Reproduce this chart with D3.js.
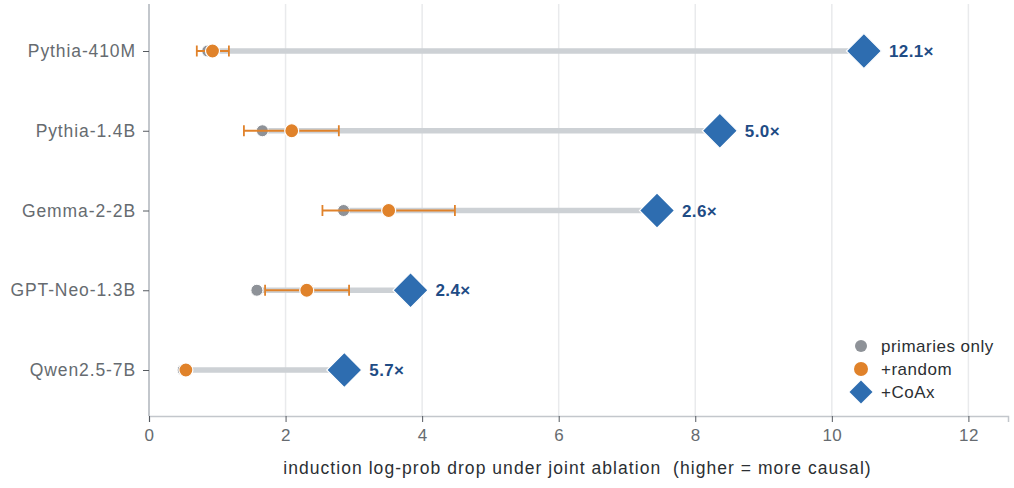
<!DOCTYPE html>
<html>
<head>
<meta charset="utf-8">
<script src="https://cdn.jsdelivr.net/npm/d3@7"></script>
<style>
  body { margin: 0; background: #fff; }
  text { font-family: "Liberation Sans", Arial, sans-serif; }
</style>
</head>
<body>
<script>
const models = ['Pythia-410M', 'Pythia-1.4B', 'Gemma-2-2B', 'GPT-Neo-1.3B', 'Qwen2.5-7B'];
const primaries = [0.86, 1.66, 2.85, 1.58, 0.50];
const randomMean = [0.93, 2.09, 3.51, 2.31, 0.54];
const randomLo = [0.70, 1.39, 2.54, 1.70, 0.54];
const randomHi = [1.17, 2.78, 4.48, 2.93, 0.54];
const coax = [10.47, 8.36, 7.44, 3.83, 2.86];
const ratioLabels = ['12.1×', '5.0×', '2.6×', '2.4×', '5.7×'];
const xTicks = [0, 2, 4, 6, 8, 10, 12];

const svgWidth = 1014;
const svgHeight = 488;
const margin = {left: 149, right: 6, top: 4, bottom: 72};

const rows = models.map((m, i) => ({
    model: m,
    prim: primaries[i],
    rand: randomMean[i],
    lo: randomLo[i],
    hi: randomHi[i],
    coax: coax[i],
    label: ratioLabels[i]
}));

const svg = d3.select('body').append('svg')
.attr('width', svgWidth)
.attr('height', svgHeight)

const x = d3.scaleLinear()
.domain([0, 12.58])
.range([margin.left, svgWidth - margin.right])

const y = d3.scalePoint()
.domain(models)
.range([51, 370])

const bottomY = svgHeight - margin.bottom;

// grid
svg.append('g')
.selectAll('line')
.data(xTicks.filter((t) => t > 0))
.enter().append('line')
.attr('x1', (d) => x(d)).attr('x2', (d) => x(d))
.attr('y1', margin.top).attr('y2', bottomY)
.attr('stroke', '#e9eaec')
.attr('stroke-width', 1.5)

// x axis
const xAxis = svg.append('g')
.attr('transform', `translate(0, ${bottomY})`)
.call(d3.axisBottom(x).tickValues(xTicks).tickSize(6).tickPadding(7))
xAxis.select('.domain').attr('stroke', '#c3c7cc').attr('stroke-width', 1.5)
xAxis.selectAll('.tick line').attr('stroke', '#555a60')
xAxis.selectAll('.tick text').attr('fill', '#666b70')
.style('font-size', '17px').style('letter-spacing', '0.5px')

// y axis
const yAxis = svg.append('g')
.attr('transform', `translate(${margin.left}, 0)`)
.call(d3.axisLeft(y).tickSize(6).tickPadding(7))
yAxis.select('.domain')
.attr('d', `M0,${margin.top}V${bottomY}`)
.attr('stroke', '#c3c7cc').attr('stroke-width', 2)
yAxis.selectAll('.tick line').attr('stroke', '#555a60')
yAxis.selectAll('.tick text').attr('fill', '#666b70')
.style('font-size', '17.5px').style('letter-spacing', '0.9px')

svg.append('text')
.attr('x', (x.range()[0] + x.range()[1]) / 2 - 1)
.attr('y', 474)
.attr('text-anchor', 'middle')
.attr('fill', '#2b2f33')
.style('font-size', '17.5px')
.style('letter-spacing', '1.05px')
.style('white-space', 'pre')
.text('induction log-prob drop under joint ablation  (higher = more causal)')

const marks = svg.append('g')

// gray bars from primaries to CoAx
marks.selectAll('.bar')
.data(rows).enter().append('line')
.attr('x1', (d) => x(Math.min(d.prim, d.rand)))
.attr('x2', (d) => x(d.coax))
.attr('y1', (d) => y(d.model)).attr('y2', (d) => y(d.model))
.attr('stroke', '#cdd1d5')
.attr('stroke-width', 5.5)

// primaries
marks.selectAll('.prim')
.data(rows).enter().append('circle')
.attr('cx', (d) => x(d.prim))
.attr('cy', (d) => y(d.model))
.attr('r', 6)
.attr('fill', '#8e9298')
.attr('stroke', '#fff').attr('stroke-width', 1)

// random error bars
const err = marks.selectAll('.err')
.data(rows.filter((d) => d.hi > d.lo)).enter().append('g')
err.append('line')
.attr('x1', (d) => x(d.lo)).attr('x2', (d) => x(d.hi))
.attr('y1', (d) => y(d.model)).attr('y2', (d) => y(d.model))
.attr('stroke', '#e0822a').attr('stroke-width', 2)
err.selectAll('.cap')
.data((d) => [[d.lo, d.model], [d.hi, d.model]]).enter().append('line')
.attr('x1', (d) => x(d[0])).attr('x2', (d) => x(d[0]))
.attr('y1', (d) => y(d[1]) - 5.5).attr('y2', (d) => y(d[1]) + 5.5)
.attr('stroke', '#e0822a').attr('stroke-width', 1.8)

marks.selectAll('.rand')
.data(rows).enter().append('circle')
.attr('cx', (d) => x(d.rand))
.attr('cy', (d) => y(d.model))
.attr('r', 7)
.attr('fill', '#e0822a')
.attr('stroke', '#fff').attr('stroke-width', 1.2)

// CoAx diamonds
marks.selectAll('.coax')
.data(rows).enter().append('path')
.attr('d', d3.symbol().type(d3.symbolSquare).size(17.5 * 17.5 * 2)())
.attr('transform', (d) => `translate(${x(d.coax)}, ${y(d.model)}) rotate(45)`)
.attr('fill', '#2e6db0')
.attr('stroke', '#fff').attr('stroke-width', 1.2)

marks.selectAll('.lab')
.data(rows).enter().append('text')
.attr('x', (d) => x(d.coax) + 25)
.attr('y', (d) => y(d.model) + 6)
.attr('fill', '#1f4c85')
.style('font-size', '17px')
.style('font-weight', 'bold')
.style('letter-spacing', '0.4px')
.text((d) => d.label)

// legend
const legendItems = [
    {name: 'primaries only', type: 'circle', r: 6, color: '#8e9298'},
    {name: '+random', type: 'circle', r: 7, color: '#e0822a'},
    {name: '+CoAx', type: 'diamond', color: '#2e6db0'}
];
const legend = svg.append('g').attr('transform', 'translate(861, 346)')
legendItems.forEach((item, i) => {
    const g = legend.append('g').attr('transform', `translate(0, ${i * 23})`)
    if (item.type === 'circle') {
        g.append('circle').attr('r', item.r).attr('fill', item.color)
    } else {
        g.append('path')
        .attr('d', d3.symbol().type(d3.symbolSquare).size(11.5 * 11.5 * 2)())
        .attr('transform', 'rotate(45)')
        .attr('fill', item.color)
    }
    g.append('text')
    .attr('x', 20)
    .attr('y', 6)
    .attr('fill', '#2b2f33')
    .style('font-size', '17px')
    .style('letter-spacing', '0.5px')
    .text(item.name)
})
</script>
</body>
</html>
